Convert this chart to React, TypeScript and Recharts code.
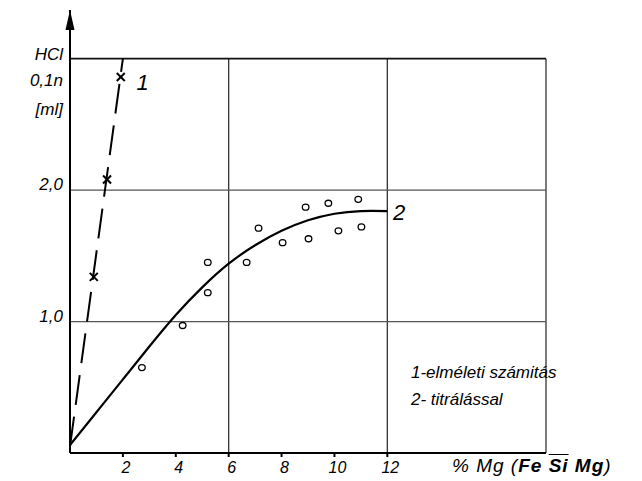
import React from "react";
import {
  ComposedChart,
  XAxis,
  YAxis,
  Line,
  Scatter,
  ReferenceLine,
  ReferenceDot,
} from "recharts";

// tick labels
const xTicks = [2, 4, 6, 8, 10, 12];
const yTicks = [1, 2];
const yTickLabels = ["1,0", "2,0"];

// grid (hand drawn, only every 6 % and every 1 ml)
const gridX = [6, 12, 18];
const gridY = [1, 2, 3];

// 1 - theoretical calculation (dashed line + crosses)
const theoryLine = [
  { x: 0, y: 0.05 },
  { x: 2.0, y: 3.0 },
];
const theoryPoints = [
  { x: 0.9, y: 1.34 },
  { x: 1.4, y: 2.08 },
  { x: 1.92, y: 2.86 },
];

// 2 - titration (fitted curve + measured circles)
const titrationCurve = [
  { x: 0, y: 0.06 },
  { x: 1, y: 0.31 },
  { x: 2, y: 0.56 },
  { x: 3, y: 0.81 },
  { x: 4, y: 1.05 },
  { x: 5, y: 1.26 },
  { x: 6, y: 1.44 },
  { x: 7, y: 1.58 },
  { x: 8, y: 1.69 },
  { x: 9, y: 1.77 },
  { x: 10, y: 1.82 },
  { x: 11, y: 1.84 },
  { x: 12, y: 1.84 },
];
const titrationPoints = [
  { x: 2.72, y: 0.65 },
  { x: 4.26, y: 0.97 },
  { x: 5.21, y: 1.22 },
  { x: 5.21, y: 1.45 },
  { x: 6.68, y: 1.45 },
  { x: 7.13, y: 1.71 },
  { x: 8.04, y: 1.6 },
  { x: 8.91, y: 1.87 },
  { x: 9.02, y: 1.63 },
  { x: 9.77, y: 1.9 },
  { x: 10.15, y: 1.69 },
  { x: 10.9, y: 1.93 },
  { x: 11.02, y: 1.72 },
];

const Y_TOP = 3.37;
const FONT = "'Liberation Sans', Arial, sans-serif";

const XTick = (props: any) => {
  const { x, y, payload } = props;
  return (
    <text x={x + 3} y={y + 16} textAnchor="middle" fontSize={16} fontStyle="italic" fontFamily={FONT} fill="#000">
      {payload.value}
    </text>
  );
};

const YTick = (props: any) => {
  const { x, y, payload } = props;
  const i = yTicks.indexOf(payload.value);
  return (
    <text x={x - 7} y={y} textAnchor="end" fontSize={17} fontStyle="italic" fontFamily={FONT} fill="#000">
      {yTickLabels[i]}
    </text>
  );
};

const Cross = (props: any) => {
  const { cx, cy } = props;
  const s = 4;
  return (
    <g stroke="#000" strokeWidth={2}>
      <line x1={cx - s} y1={cy - s} x2={cx + s} y2={cy + s} />
      <line x1={cx - s} y1={cy + s} x2={cx + s} y2={cy - s} />
    </g>
  );
};

const Ring = (props: any) => {
  const { cx, cy } = props;
  return <ellipse cx={cx} cy={cy} rx={3.3} ry={3} fill="none" stroke="#000" strokeWidth={1.3} />;
};

const Arrow = (props: any) => {
  const { cx, cy } = props;
  return <path d={`M${cx},${cy} L${cx - 4.5},${cy + 20} L${cx + 4.5},${cy + 20} Z`} fill="#000" />;
};

const seriesLabel = (text: string) => (props: any) => (
  <text x={props.cx} y={props.cy} textAnchor="middle" dominantBaseline="central" fontSize={22} fontStyle="italic" fontFamily={FONT} fill="#000">
    {text}
  </text>
);

const textStyle: React.CSSProperties = {
  position: "absolute",
  fontFamily: FONT,
  fontStyle: "italic",
  color: "#000",
  whiteSpace: "nowrap",
  lineHeight: 1,
};

const App = () => {
  return (
    <div style={{ position: "absolute", left: 0, top: 0, width: 642, height: 481, background: "#fff" }}>
      <ComposedChart width={642} height={481} margin={{ top: 10, right: 96, bottom: 8, left: 10 }}>
        <XAxis
          dataKey="x"
          type="number"
          domain={[0, 18]}
          ticks={xTicks}
          allowDataOverflow
          height={20}
          tickSize={4}
          tickMargin={0}
          tick={<XTick />}
          axisLine={{ stroke: "#000", strokeWidth: 2 }}
          tickLine={{ stroke: "#000", strokeWidth: 2 }}
        />
        <YAxis
          type="number"
          domain={[0, Y_TOP]}
          ticks={yTicks}
          allowDataOverflow
          width={60}
          tickSize={0}
          tickMargin={0}
          tickLine={false}
          tick={<YTick />}
          axisLine={{ stroke: "#000", strokeWidth: 2 }}
        />

        {gridX.map((v) => (
          <ReferenceLine key={"gx" + v} segment={[{ x: v, y: 0 }, { x: v, y: 3 }]} stroke="#333" strokeWidth={1.3} />
        ))}
        {gridY.map((v) => (
          <ReferenceLine key={"gy" + v} segment={[{ x: 0, y: v }, { x: 18, y: v }]} stroke={v === 3 ? "#111" : "#555"} strokeWidth={v === 3 ? 1.8 : 1.2} />
        ))}

        <Line
          data={theoryLine}
          dataKey="y"
          type="linear"
          stroke="#000"
          strokeWidth={2}
          strokeDasharray="30 12"
          dot={false}
          isAnimationActive={false}
        />
        <Scatter data={theoryPoints} dataKey="y" shape={<Cross />} isAnimationActive={false} />

        <Line
          data={titrationCurve}
          dataKey="y"
          type="natural"
          stroke="#000"
          strokeWidth={2.2}
          dot={false}
          isAnimationActive={false}
        />
        <Scatter data={titrationPoints} dataKey="y" shape={<Ring />} isAnimationActive={false} />

        <ReferenceDot x={0} y={Y_TOP} r={0} shape={<Arrow />} />
        <ReferenceDot x={2.75} y={2.82} r={0} shape={seriesLabel("1")} />
        <ReferenceDot x={12.45} y={1.83} r={0} shape={seriesLabel("2")} />
      </ComposedChart>

      {/* y axis title */}
      <div style={{ ...textStyle, right: 642 - 63, top: 46, fontSize: 17, textAlign: "right" }}>HCl</div>
      <div style={{ ...textStyle, right: 642 - 63, top: 72, fontSize: 17, textAlign: "right" }}>0,1n</div>
      <div style={{ ...textStyle, right: 642 - 63, top: 101, fontSize: 17, textAlign: "right" }}>[ml]</div>

      {/* legend */}
      <div style={{ ...textStyle, left: 411, top: 364, fontSize: 17 }}>1-elméleti számitás</div>
      <div style={{ ...textStyle, left: 411, top: 391, fontSize: 17 }}>2- titrálással</div>

      {/* x axis title */}
      <div style={{ ...textStyle, left: 452, top: 456, fontSize: 19, letterSpacing: 1 }}>
        % Mg (<b style={{ fontStyle: "italic" }}>Fe <span style={{ textDecoration: "overline" }}>Si</span> Mg</b>)
      </div>
    </div>
  );
};

export default App;
